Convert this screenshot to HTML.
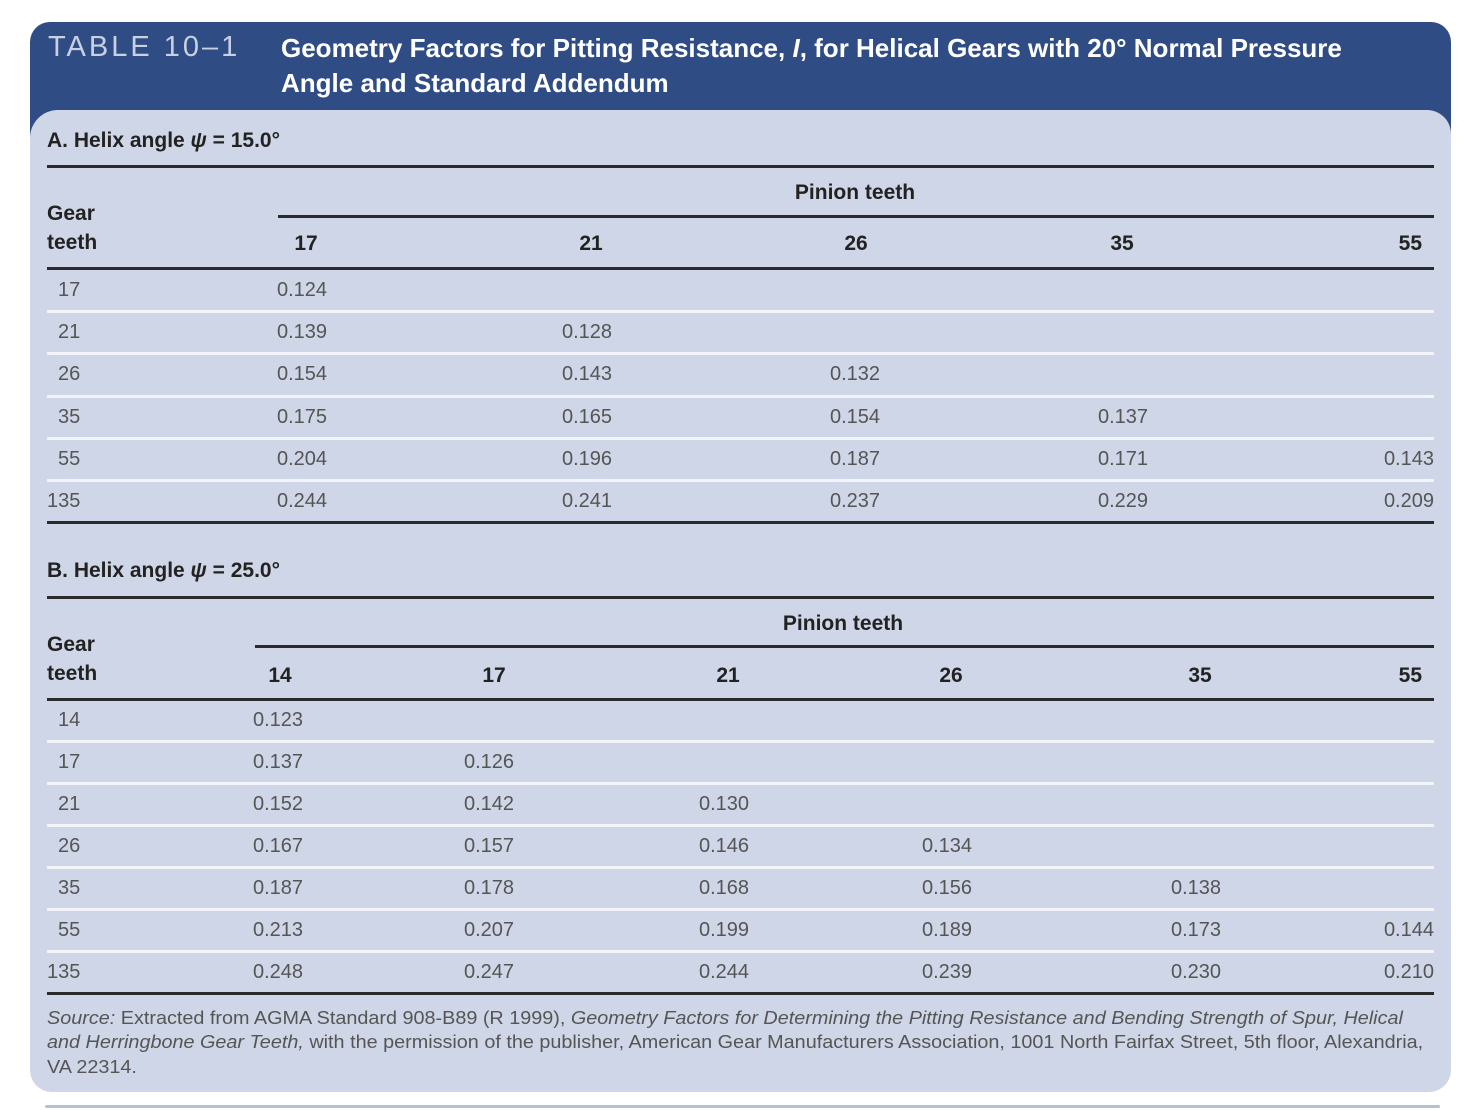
<!DOCTYPE html>
<html><head><meta charset="utf-8">
<style>
body{margin:0;width:1472px;height:1110px;background:#fff;position:relative;overflow:hidden;font-family:"Liberation Sans",Arial,sans-serif}
.abs{position:absolute;white-space:nowrap;line-height:1}
#hdr{position:absolute;left:30px;top:22px;width:1421px;height:130px;background:#2f4c84;border-radius:20px 20px 0 0}
#panel{position:absolute;left:30px;top:110px;width:1421px;height:982px;background:#cfd6e7;border-radius:28px 24px 22px 22px}
.tl{color:#c8d0e4;font-size:29px;letter-spacing:3px}
.tt{color:#fff;font-size:26px;font-weight:bold}
.sec{color:#222;font-size:21px;font-weight:bold}
.hd{color:#222;font-size:21px;font-weight:bold}
.val{color:#555;font-size:20px}
.thick{position:absolute;height:3px;background:#2a2a2a}
.sep{position:absolute;height:3px;background:#f2f4f9}
.src{color:#555;font-size:18px;transform:scaleX(1.1);transform-origin:0 0}
</style></head><body>
<div id="hdr"></div>
<div id="panel"></div>
<div style="position:absolute;left:45px;top:1105px;width:1395px;height:3px;background:#b8c0d4;border-radius:3px"></div>
<div class="abs tl" style="left:48px;top:33px">TABLE 10–1</div>
<div class="abs tt" style="left:281px;top:35px">Geometry Factors for Pitting Resistance, <i>I</i>, for Helical Gears with 20° Normal Pressure</div>
<div class="abs tt" style="left:281px;top:70px">Angle and Standard Addendum</div>
<div id="content"></div>
<div class="abs src" style="left:47px;top:1009px"><i>Source:</i> Extracted from AGMA Standard 908-B89 (R 1999), <i>Geometry Factors for Determining the Pitting Resistance and Bending Strength of Spur, Helical</i></div>
<div class="abs src" style="left:47px;top:1033px"><i>and Herringbone Gear Teeth,</i> with the permission of the publisher, American Gear Manufacturers Association, 1001 North Fairfax Street, 5th floor, Alexandria,</div>
<div class="abs src" style="left:47px;top:1058px">VA 22314.</div>
<script>
const pinionA=["17","21","26","35","55"];
const gearA=["17","21","26","35","55","135"];
const valuesA=[
["0.124","","","",""],
["0.139","0.128","","",""],
["0.154","0.143","0.132","",""],
["0.175","0.165","0.154","0.137",""],
["0.204","0.196","0.187","0.171","0.143"],
["0.244","0.241","0.237","0.229","0.209"]];
const pinionB=["14","17","21","26","35","55"];
const gearB=["14","17","21","26","35","55","135"];
const valuesB=[
["0.123","","","","",""],
["0.137","0.126","","","",""],
["0.152","0.142","0.130","","",""],
["0.167","0.157","0.146","0.134","",""],
["0.187","0.178","0.168","0.156","0.138",""],
["0.213","0.207","0.199","0.189","0.173","0.144"],
["0.248","0.247","0.244","0.239","0.230","0.210"]];
const C=document.getElementById('content');
function txt(t,cls,x,y,name,align){
  const d=document.createElement('div');
  d.className='abs '+cls;d.textContent=t;
  d.style.top=(y-10)+'px';
  if(align==='right'){d.style.right=(1472-x)+'px';}
  else if(align==='center'){d.style.left=x+'px';d.style.transform='translateX(-50%)';}
  else d.style.left=x+'px';
  
  
  C.appendChild(d);return d;
}
function line(cls,x1,x2,y,name){
  const d=document.createElement('div');
  d.className=cls;d.style.left=x1+'px';d.style.width=(x2-x1)+'px';d.style.top=(y-1)+'px';
  
  
  C.appendChild(d);
}
function section(o){
  const sd=txt(o.title,'sec',47,o.titleY,o.key+'-title');
  sd.innerHTML=o.title;
  line('thick',47,1434,o.l1,o.key+'-top-rule');
  txt('Pinion teeth','hd',o.ptX,o.ptY,o.key+'-pinion-teeth-label','center');
  line('thick',o.plX,1434,o.l2,o.key+'-pinion-rule');
  txt('Gear','hd',47,o.gearY,o.key+'-gear-label');
  txt('teeth','hd',47,o.gearY+29,o.key+'-teeth-label');
  o.pinion.forEach((p,i)=>{
    const last=i===o.pinion.length-1;
    txt(p,'hd',last?1422:o.hX[i],o.hY,o.key+'-col-header-'+p,last?'right':'center');
  });
  line('thick',47,1434,o.l3,o.key+'-header-rule');
  o.gear.forEach((g,r)=>{
    const y=o.rowY0+r*o.rowH;
    txt(g,'val',g.length>2?47:58,y,o.key+'-row-label-'+g);
    o.values[r].forEach((v,c)=>{
      if(!v)return;
      const last=c===o.pinion.length-1;
      txt(v,'val',last?1434:o.vX[c],y,o.key+'-cell-'+g+'-'+o.pinion[c],last?'right':'left');
    });
    if(r<o.gear.length-1) line('sep',47,1434,y+o.rowH/2,o.key+'-row-separator');
  });
  line('thick',47,1434,o.rowY0+(o.gear.length-1)*o.rowH+o.rowH/2,o.key+'-bottom-rule');
}
section({key:'section-a',title:'A. Helix angle <i>ψ</i> = 15.0°',titleY:140,l1:166,ptX:855,ptY:192,plX:278,l2:216,
 gearY:213,hY:243,hX:[306,591,856,1122],l3:268,pinion:pinionA,gear:gearA,values:valuesA,
 rowY0:290,rowH:42.2,vX:[277,562,830,1098]});
section({key:'section-b',title:'B. Helix angle <i>ψ</i> = 25.0°',titleY:570,l1:597,ptX:843,ptY:623,plX:255,l2:646,
 gearY:644,hY:675,hX:[280,494,728,951,1200],l3:699,pinion:pinionB,gear:gearB,values:valuesB,
 rowY0:720,rowH:42,vX:[253,464,699,922,1171]});
</script>
</body></html>
